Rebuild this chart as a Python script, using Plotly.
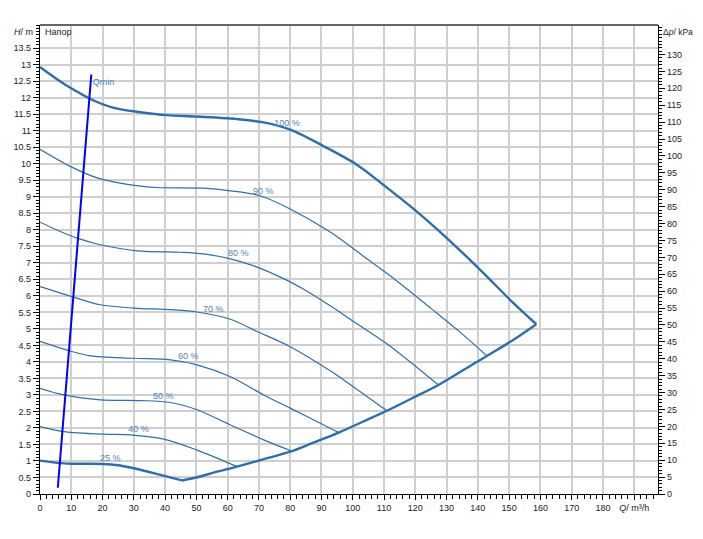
import plotly.graph_objects as go

# ---- data ----
q100 = [0, 6.5, 10.8, 16.1, 23.6, 32.1, 40.6, 50.2, 63, 71.5, 80, 90.7, 101.3, 109.8, 120.5, 131.2, 141.8, 150.3, 158.7]
h100 = [12.93, 12.49, 12.24, 11.96, 11.69, 11.56, 11.47, 11.43, 11.35, 11.25, 11.03, 10.53, 9.97, 9.36, 8.55, 7.65, 6.69, 5.88, 5.14]

q_env = [45.4, 50, 56, 63, 71, 80, 87, 95.5, 103, 110.9, 119, 127.4, 135, 142.9, 151.4, 158.7]
h_env = [0.41, 0.5, 0.66, 0.83, 1.04, 1.28, 1.54, 1.86, 2.18, 2.52, 2.9, 3.30, 3.73, 4.18, 4.67, 5.14]

q25 = [0, 4, 8.7, 20.4, 25, 30, 38.5, 45.4]
h25 = [1.01, 0.96, 0.92, 0.91, 0.87, 0.78, 0.58, 0.41]

q90 = [0, 9.7, 18.3, 28.9, 37.4, 52.3, 60.9, 70.4, 80, 92.8, 103.4, 114.1, 125, 134.3, 142.9]
h90 = [10.44, 9.92, 9.57, 9.36, 9.28, 9.26, 9.18, 9.03, 8.63, 7.93, 7.20, 6.45, 5.62, 4.90, 4.18]

q80 = [0, 6.5, 12.4, 18.3, 31.1, 44.9, 52.3, 60.9, 69.4, 77.9, 84.3, 93.9, 99.2, 110.9, 127.4]
h80 = [8.23, 7.95, 7.73, 7.57, 7.36, 7.32, 7.27, 7.12, 6.87, 6.52, 6.2, 5.63, 5.29, 4.55, 3.30]

q70 = [0, 10.8, 19.3, 30, 41.7, 50.2, 60.9, 69.4, 80, 92.8, 97, 110.9]
h70 = [6.28, 5.96, 5.73, 5.63, 5.58, 5.51, 5.29, 4.92, 4.46, 3.73, 3.46, 2.52]

q60 = [0, 9.2, 16.1, 30, 41.7, 50.2, 60.9, 71.5, 80, 92.8, 95.5]
h60 = [4.62, 4.34, 4.18, 4.11, 4.06, 3.91, 3.55, 3.00, 2.6, 1.99, 1.86]

q50 = [0, 7.6, 19.3, 32.1, 41.7, 50.2, 60.9, 71.5, 80.5]
h50 = [3.20, 3.00, 2.85, 2.83, 2.77, 2.55, 2.09, 1.64, 1.30]

q40 = [0, 7.6, 20.4, 28.9, 39.6, 50.2, 63]
h40 = [2.04, 1.89, 1.81, 1.79, 1.66, 1.33, 0.83]

q_min = [5.7, 16.4]
h_min = [0.19, 12.70]

curve_labels = ["100 %", "90 %", "80 %", "70 %", "60 %", "50 %", "40 %", "25 %", "Qmin"]
label_q = [79, 71.4, 63.4, 55.4, 47.4, 39.4, 31.5, 22.5, 20.3]
label_h = [11.2, 9.15, 7.27, 5.58, 4.15, 2.94, 1.94, 1.06, 12.45]

x_ticks = list(range(0, 200, 10))
x_ticktext = [str(v) for v in range(0, 190, 10)] + ["<i>Q</i>/ m³/h"]
y_ticks = [i * 0.5 for i in range(28)]
y_ticktext = [("%g" % v) for v in y_ticks]
kpa_ticks = list(range(0, 135, 5))

KPA_PER_M = 9.77
Y_MAX = 14.2
X_MAX = 197.6

# ---- figure ----
BLUE = "#2f6ea8"
LBL = "#4f82ba"
FONT = "Liberation Sans, Arial, sans-serif"

fig = go.Figure()

thick = [(q100, h100), (q_env, h_env), (q25, h25)]
thin = [(q90, h90), (q80, h80), (q70, h70), (q60, h60), (q50, h50), (q40, h40)]
for q, h in thin:
    fig.add_trace(go.Scatter(x=q, y=h, mode="lines", line=dict(color=BLUE, width=1.2, shape="spline", smoothing=0.9),
                             hoverinfo="skip", showlegend=False))
for q, h in thick:
    fig.add_trace(go.Scatter(x=q, y=h, mode="lines", line=dict(color=BLUE, width=2.4, shape="spline", smoothing=0.9),
                             hoverinfo="skip", showlegend=False))
fig.add_trace(go.Scatter(x=q_min, y=h_min, mode="lines", line=dict(color="#0000ff", width=2),
                         hoverinfo="skip", showlegend=False))
# invisible trace to activate the right axis
fig.add_trace(go.Scatter(x=[0], y=[0], yaxis="y2", mode="markers", marker=dict(opacity=0),
                         hoverinfo="skip", showlegend=False))

fig.add_trace(go.Scatter(x=label_q, y=label_h, mode="text", text=curve_labels, textposition="middle center",
                         textfont=dict(color=LBL, size=9, family=FONT), hoverinfo="skip", showlegend=False))

fig.update_layout(
    width=695, height=531,
    margin=dict(l=32, r=45, t=17, b=45),
    paper_bgcolor="white", plot_bgcolor="white",
    font=dict(family=FONT, size=9, color="#222"),
    xaxis=dict(range=[0, X_MAX], tickvals=x_ticks, ticktext=x_ticktext, showgrid=True, automargin=False,
               gridcolor="#cfcfcf", gridwidth=1.6, zeroline=False,
               showline=True, linecolor="black", linewidth=1.3,
               ticks="outside", ticklen=5, tickcolor="black", tickwidth=1,
               minor=dict(dtick=2, tick0=0, ticks="outside", ticklen=4, tickcolor="black", showgrid=False),
               tickfont=dict(size=9, family=FONT, color="#222")),
    yaxis=dict(range=[0, Y_MAX], tickvals=y_ticks, ticktext=y_ticktext, showgrid=True, automargin=False,
               gridcolor="#cfcfcf", gridwidth=1.6, zeroline=False,
               showline=True, linecolor="black", linewidth=1.3,
               ticks="outside", ticklen=6, tickcolor="black", tickwidth=1,
               minor=dict(dtick=0.1, tick0=0, ticks="outside", ticklen=3, tickcolor="black", showgrid=False),
               tickfont=dict(size=9, family=FONT, color="#222")),
    yaxis2=dict(range=[0, Y_MAX * KPA_PER_M], overlaying="y", side="right", tickvals=kpa_ticks, automargin=False,
                showgrid=False, zeroline=False, showline=True, linecolor="black", linewidth=1.3,
                ticks="outside", ticklen=6, tickcolor="black", tickwidth=1,
                minor=dict(dtick=1, tick0=0, ticks="outside", ticklen=3, tickcolor="black", showgrid=False),
                tickfont=dict(size=9, family=FONT, color="#222")),
)

# top frame line
fig.add_shape(type="line", xref="paper", yref="paper", x0=0, x1=1, y0=1, y1=1,
              line=dict(color="#666", width=2))

fig.add_annotation(xref="paper", yref="y", x=0, y=14.0, xanchor="right", xshift=-5,
                   text="<i>H</i>/ m", showarrow=False, font=dict(size=9, family=FONT, color="#222"))
fig.add_annotation(xref="paper", yref="y", x=1, y=14.0, xanchor="left", xshift=3,
                   text="Δ<i>p</i>/ kPa", showarrow=False, font=dict(size=8.5, family=FONT, color="#222"))
fig.add_annotation(xref="paper", yref="y", x=0, y=14.0, xanchor="left", xshift=3,
                   text="Напор", showarrow=False, font=dict(size=9, family=FONT, color="#222"))

fig.write_html("out.html")
